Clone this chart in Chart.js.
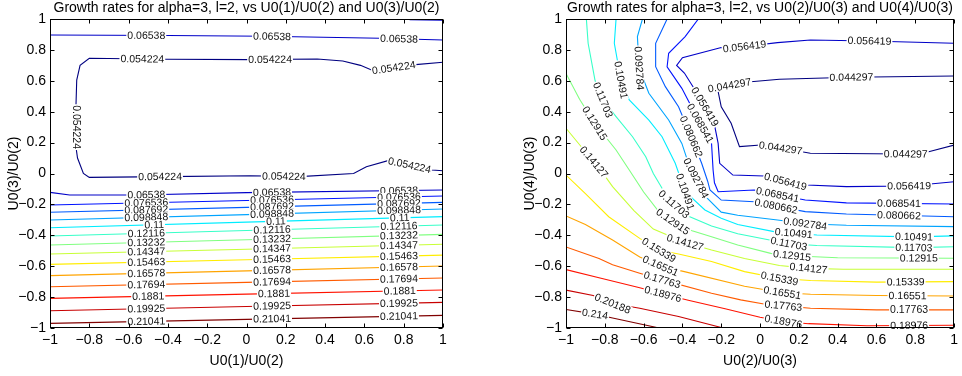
<!DOCTYPE html>
<html>
<head>
<meta charset="utf-8">
<script src="https://cdn.jsdelivr.net/npm/chart.js@4.4.0/dist/chart.umd.min.js"></script>
<style>
  body { margin: 0; background: #fff; width: 962px; height: 376px; overflow: hidden; position: relative; }
  canvas { position: absolute; top: 0; }
</style>
</head>
<body>
<canvas id="left" width="481" height="376" style="left:0"></canvas>
<canvas id="right" width="481" height="376" style="left:481px"></canvas>
<script>
// contour levels (text of the inline labels)
var leftLevels = [0.054224, 0.06538, 0.076536, 0.087692, 0.098848, 0.11, 0.12116, 0.13232,
                  0.14347, 0.15463, 0.16578, 0.17694, 0.1881, 0.19925, 0.21041];
var rightLevels = [0.044297, 0.056419, 0.068541, 0.080662, 0.092784, 0.10491, 0.11703, 0.12915,
                   0.14127, 0.15339, 0.16551, 0.17763, 0.18976, 0.20188, 0.214];

var tickValues = [-1, -0.8, -0.6, -0.4, -0.2, 0, 0.2, 0.4, 0.6, 0.8, 1];

// contour lines: [level index, [[x, y], ...]]
var leftLines = [
  [0, [[1,0.72],[0.86,0.705],[0.645,0.665],[0.58,0.70],[0.49,0.728],[0.36,0.741],[0.02,0.737],[-0.406,0.739],
       [-0.8,0.746],[-0.847,0.70],[-0.864,0.605],[-0.868,0.432],[-0.868,0.173],[-0.86,0.1],[-0.83,0.0],
       [-0.8,-0.025],[-0.41,-0.02],[0.02,-0.015],[0.27,-0.02],[0.545,0.0],[0.61,0.044],[0.72,0.083],
       [0.943,0.023],[1,0.018]]],
  [1, [[-1,0.896],[-0.4,0.893],[0.1,0.888],[0.68,0.875],[1,0.864]]],
  [1, [[0.83,0.995],[1,0.992]]],
  [1, [[-1,-0.122],[-0.9,-0.139],[-0.55,-0.139],[0,-0.124],[1,-0.107]]],
  [2, [[-1,-0.204],[0,-0.175],[1,-0.146]]],
  [3, [[-1,-0.251],[0,-0.219],[1,-0.187]]],
  [4, [[-1,-0.301],[0,-0.266],[1,-0.230]]],
  [5, [[-1,-0.351],[0,-0.315],[1,-0.279]]],
  [6, [[-1,-0.405],[0,-0.369],[1,-0.333]]],
  [7, [[-1,-0.463],[0,-0.429],[1,-0.394]]],
  [8, [[-1,-0.521],[0,-0.490],[1,-0.458]]],
  [9, [[-1,-0.588],[0,-0.558],[1,-0.528]]],
  [10, [[-1,-0.661],[0,-0.630],[1,-0.599]]],
  [11, [[-1,-0.733],[0,-0.705],[1,-0.676]]],
  [12, [[-1,-0.808],[0,-0.781],[1,-0.754]]],
  [13, [[-1,-0.888],[0,-0.861],[1,-0.834]]],
  [14, [[-1,-0.970],[0,-0.944],[1,-0.918]]]
];

var rightLines = [
  [0, [[1,0.631],[0.471,0.623],[0.1,0.61],[-0.047,0.594],[-0.157,0.57],[-0.216,0.53],[-0.2,0.432],
       [-0.149,0.325],[-0.106,0.174],[0.004,0.184],[0.106,0.165],[0.259,0.131],[0.751,0.126],[0.869,0.141],[1,0.184]]],
  [1, [[1,0.843],[0.564,0.858],[0.26,0.864],[0.09,0.847],[-0.08,0.822],[-0.2,0.815],[-0.4,0.75],[-0.43,0.70],
       [-0.39,0.65],[-0.335,0.54],[-0.284,0.432],[-0.233,0.303],[-0.216,0.195],[-0.208,0.066],[-0.14,-0.01],
       [0.021,-0.016],[0.131,-0.053],[0.242,-0.074],[0.445,-0.085],[0.768,-0.081],[1,-0.053]]],
  [2, [[-0.318,1],[-0.386,0.886],[-0.471,0.778],[-0.479,0.691],[-0.403,0.551],[-0.318,0.346],[-0.25,0.195],
       [-0.242,0.023],[-0.235,-0.06],[-0.216,-0.118],[-0.03,-0.107],[0.097,-0.139],[0.233,-0.172],[0.445,-0.19],[1,-0.197]]],
  [3, [[-0.479,1],[-0.538,0.843],[-0.538,0.691],[-0.488,0.562],[-0.42,0.432],[-0.352,0.228],[-0.301,0.066],
       [-0.27,-0.05],[-0.258,-0.107],[-0.2,-0.172],[-0.03,-0.183],[0.097,-0.215],[0.233,-0.247],[0.445,-0.262],[1,-0.28]]],
  [4, [[-0.606,1],[-0.632,0.886],[-0.623,0.681],[-0.573,0.519],[-0.471,0.346],[-0.403,0.195],[-0.369,0.066],
       [-0.33,-0.03],[-0.28,-0.15],[-0.2,-0.25],[-0.115,-0.27],[0.09,-0.301],[0.233,-0.325],[0.445,-0.335],[1,-0.344]]],
  [5, [[-0.742,1],[-0.751,0.843],[-0.717,0.605],[-0.674,0.476],[-0.573,0.346],[-0.505,0.238],[-0.437,0.066],
       [-0.386,-0.118],[-0.284,-0.236],[-0.2,-0.29],[-0.115,-0.33],[0.072,-0.376],[0.174,-0.387],[0.293,-0.398],
       [0.793,-0.41],[1,-0.404]]],
  [6, [[-0.895,1],[-0.886,0.843],[-0.85,0.6],[-0.81,0.476],[-0.742,0.368],[-0.657,0.238],[-0.589,0.109],
       [-0.55,0.0],[-0.47,-0.17],[-0.38,-0.27],[-0.25,-0.34],[-0.115,-0.39],[0.148,-0.455],[0.293,-0.466],
       [0.793,-0.48],[1,-0.474]]],
  [7, [[-1,0.648],[-0.93,0.48],[-0.852,0.325],[-0.742,0.152],[-0.674,0.023],[-0.6,-0.12],[-0.52,-0.25],
       [-0.44,-0.32],[-0.35,-0.37],[-0.25,-0.41],[-0.115,-0.463],[0.055,-0.517],[0.165,-0.532],[0.4,-0.545],[1,-0.549]]],
  [8, [[-1,0.293],[-0.88,0.11],[-0.82,0.02],[-0.76,-0.085],[-0.65,-0.24],[-0.55,-0.36],[-0.39,-0.445],
       [-0.25,-0.495],[-0.08,-0.55],[0.1,-0.595],[0.25,-0.614],[0.43,-0.62],[1,-0.62]]],
  [9, [[-1,-0.01],[-0.9,-0.13],[-0.78,-0.28],[-0.62,-0.42],[-0.52,-0.497],[-0.42,-0.521],[-0.25,-0.57],
       [-0.08,-0.635],[0.1,-0.68],[0.26,-0.693],[0.6,-0.703],[1,-0.70]]],
  [10, [[-1,-0.275],[-0.9,-0.33],[-0.76,-0.43],[-0.62,-0.54],[-0.51,-0.6],[-0.39,-0.635],[-0.08,-0.73],
        [0.115,-0.772],[0.26,-0.782],[0.6,-0.79],[1,-0.793]]],
  [11, [[-1,-0.476],[-0.83,-0.55],[-0.76,-0.59],[-0.62,-0.645],[-0.5,-0.69],[-0.25,-0.775],[-0.1,-0.818],
        [0.02,-0.845],[0.12,-0.857],[0.26,-0.872],[0.6,-0.883],[1,-0.883]]],
  [12, [[-1,-0.622],[-0.83,-0.675],[-0.62,-0.74],[-0.5,-0.78],[-0.37,-0.82],[-0.18,-0.875],[0,-0.93],
        [0.12,-0.958],[0.25,-0.972],[0.55,-0.985],[1,-0.982]]],
  [13, [[-1,-0.755],[-0.86,-0.79],[-0.76,-0.842],[-0.62,-0.872],[-0.42,-0.926],[-0.19,-1]]],
  [14, [[-1,-0.88],[-0.85,-0.91],[-0.76,-0.935],[-0.52,-1]]]
];

// inline labels: [level index, x, y] (the label snaps to the nearest point of that level's line)
var leftLabels = [
  [0,-0.53,0.74],[0,0.12,0.737],[0,0.75,0.68],[0,-0.866,0.30],[0,-0.44,-0.02],[0,0.19,-0.015],[0,0.83,0.055],
  [1,-0.51,0.893],[1,0.13,0.888],[1,0.776,0.87],
  [1,-0.51,-0.137],[1,0.13,-0.122],[1,0.776,-0.111],
  [2,-0.51,-0.19],[2,0.13,-0.171],[2,0.776,-0.152],
  [3,-0.51,-0.235],[3,0.13,-0.215],[3,0.776,-0.194],
  [4,-0.51,-0.283],[4,0.13,-0.261],[4,0.776,-0.238],
  [5,-0.47,-0.333],[5,0.15,-0.31],[5,0.78,-0.287],
  [6,-0.51,-0.387],[6,0.13,-0.364],[6,0.776,-0.341],
  [7,-0.51,-0.446],[7,0.13,-0.424],[7,0.776,-0.402],
  [8,-0.51,-0.506],[8,0.13,-0.486],[8,0.776,-0.465],
  [9,-0.51,-0.573],[9,0.13,-0.554],[9,0.776,-0.535],
  [10,-0.51,-0.646],[10,0.13,-0.626],[10,0.776,-0.606],
  [11,-0.51,-0.719],[11,0.13,-0.701],[11,0.776,-0.682],
  [12,-0.5,-0.795],[12,0.14,-0.777],[12,0.78,-0.76],
  [13,-0.51,-0.875],[13,0.13,-0.857],[13,0.776,-0.84],
  [14,-0.51,-0.957],[14,0.13,-0.94],[14,0.776,-0.924]
];

var rightLabels = [
  [0,0.471,0.623],[0,-0.157,0.57],[0,0.106,0.165],[0,0.751,0.126],
  [1,0.564,0.858],[1,-0.08,0.822],[1,-0.284,0.432],[1,0.131,-0.053],[1,0.768,-0.081],
  [2,-0.3,0.33],[2,0.09,-0.14],[2,0.716,-0.195],
  [3,-0.352,0.24],[3,0.081,-0.22],[3,0.716,-0.27],
  [4,-0.623,0.681],[4,-0.33,-0.03],[4,0.233,-0.325],
  [5,-0.717,0.605],[5,-0.386,-0.118],[5,0.174,-0.387],[5,0.793,-0.41],
  [6,-0.81,0.476],[6,-0.454,-0.215],[6,0.148,-0.455],[6,0.793,-0.48],
  [7,-0.852,0.325],[7,-0.454,-0.32],[7,0.165,-0.532],[7,0.818,-0.548],
  [8,-0.87,0.06],[8,-0.386,-0.445],[8,0.25,-0.614],
  [9,-0.522,-0.497],[9,0.1,-0.68],[9,0.75,-0.703],
  [10,-0.513,-0.6],[10,0.115,-0.772],[10,0.76,-0.792],
  [11,-0.505,-0.689],[11,0.12,-0.857],[11,0.768,-0.883],
  [12,-0.5,-0.78],[12,0.12,-0.958],[12,0.768,-0.985],
  [13,-0.76,-0.842],
  [14,-0.85,-0.91]
];

var FONT = '"Liberation Sans", Arial, Helvetica, sans-serif';
Chart.defaults.font.family = FONT;
Chart.defaults.color = '#000';

// jet colormap
function jet(t) {
  function c(v) { return Math.round(255 * Math.max(0, Math.min(1, v))); }
  var r = 1.5 - Math.abs(4 * t - 3), g = 1.5 - Math.abs(4 * t - 2), b = 1.5 - Math.abs(4 * t - 1);
  return 'rgb(' + c(r) + ',' + c(g) + ',' + c(b) + ')';
}

function tickText(v) {
  var s = String(Math.round(v * 10) / 10);
  return s.replace('-', '\u2212');
}

// inline contour labels, placed on the drawn line (pixel points from the chart meta)
var labelPlugin = {
  id: 'clabels',
  afterDatasetsDraw: function(chart, args, opts) {
    var ctx = chart.ctx;
    var levels = opts.levels;
    ctx.save();
    ctx.font = '10.5px ' + FONT;
    ctx.textAlign = 'center';
    ctx.textBaseline = 'middle';
    opts.labels.forEach(function(lb) {
      var px = chart.scales.x.getPixelForValue(lb[1]);
      var py = chart.scales.y.getPixelForValue(lb[2]);
      var best = null;
      chart.data.datasets.forEach(function(ds, di) {
        if (ds.level !== lb[0]) return;
        var pts = chart.getDatasetMeta(di).data;
        for (var i = 0; i < pts.length - 1; i++) {
          var ax = pts[i].x, ay = pts[i].y, dx = pts[i + 1].x - ax, dy = pts[i + 1].y - ay;
          var len2 = dx * dx + dy * dy;
          var t = len2 ? ((px - ax) * dx + (py - ay) * dy) / len2 : 0;
          t = Math.max(0, Math.min(1, t));
          var qx = ax + t * dx, qy = ay + t * dy;
          var d = (qx - px) * (qx - px) + (qy - py) * (qy - py);
          if (!best || d < best.d) best = { d: d, x: qx, y: qy, a: Math.atan2(dy, dx) };
        }
      });
      if (!best) return;
      var a = best.a;
      if (a > Math.PI / 2) a -= Math.PI;
      if (a <= -Math.PI / 2) a += Math.PI;
      var txt = String(levels[lb[0]]);
      var w = ctx.measureText(txt).width;
      ctx.save();
      ctx.translate(best.x, best.y);
      ctx.rotate(a);
      ctx.fillStyle = '#fff';
      ctx.fillRect(-w / 2 - 1, -4.5, w + 2, 9);
      ctx.fillStyle = '#111';
      ctx.fillText(txt, 0, 0.5);
      ctx.restore();
    });
    ctx.restore();
  }
};

// box with inward tick marks on all four sides
var framePlugin = {
  id: 'frame',
  afterDraw: function(chart) {
    var ctx = chart.ctx, a = chart.chartArea;
    var L = Math.round(a.left) + 0.5, R = Math.round(a.right) - 0.5;
    var T = Math.round(a.top) + 0.5, B = Math.round(a.bottom) - 0.5;
    ctx.save();
    ctx.strokeStyle = '#000';
    ctx.lineWidth = 1;
    ctx.beginPath();
    chart.scales.x.ticks.forEach(function(t) {
      var p = Math.round(chart.scales.x.getPixelForValue(t.value)) + 0.5;
      ctx.moveTo(p, B); ctx.lineTo(p, B - 4);
      ctx.moveTo(p, T); ctx.lineTo(p, T + 4);
    });
    chart.scales.y.ticks.forEach(function(t) {
      var p = Math.round(chart.scales.y.getPixelForValue(t.value)) + 0.5;
      ctx.moveTo(L, p); ctx.lineTo(L + 4, p);
      ctx.moveTo(R, p); ctx.lineTo(R - 4, p);
    });
    ctx.stroke();
    ctx.strokeRect(L, T, R - L, B - T);
    ctx.restore();
  }
};

function makeChart(id, title, xTitle, yTitle, levels, lines, labels, padLeft, padRight) {
  var datasets = lines.map(function(ln) {
    return {
      level: ln[0],
      data: ln[1].map(function(p) { return { x: p[0], y: p[1] }; }),
      borderColor: jet(ln[0] / (levels.length - 1)),
      borderWidth: 1.1,
      pointRadius: 0,
      showLine: true,
      fill: false,
      tension: 0
    };
  });
  return new Chart(document.getElementById(id).getContext('2d'), {
    type: 'scatter',
    data: { datasets: datasets },
    options: {
      responsive: false,
      animation: false,
      layout: { padding: { left: padLeft, right: padRight, top: 0, bottom: 0 } },
      plugins: {
        legend: { display: false },
        tooltip: { enabled: false },
        title: {
          display: true, text: title, color: '#000', fullSize: false,
          font: { size: 14, weight: 'normal' }, padding: { top: 0, bottom: 2.2 }
        },
        clabels: { levels: levels, labels: labels }
      },
      scales: {
        x: {
          type: 'linear', min: -1, max: 1,
          afterBuildTicks: function(s) { s.ticks = tickValues.map(function(v) { return { value: v }; }); },
          afterFit: function(s) { s.height = 48; },
          grid: { display: false, drawTicks: false },
          border: { display: false },
          ticks: { font: { size: 14 }, color: '#000', padding: 4, maxRotation: 0, callback: tickText },
          title: { display: true, text: xTitle, color: '#000', font: { size: 14 }, padding: { top: 0, bottom: 6 } }
        },
        y: {
          type: 'linear', min: -1, max: 1,
          afterBuildTicks: function(s) { s.ticks = tickValues.map(function(v) { return { value: v }; }); },
          afterFit: function(s) { s.width = 50; },
          grid: { display: false, drawTicks: false },
          border: { display: false },
          ticks: { font: { size: 14 }, color: '#000', padding: 4, callback: tickText },
          title: { display: true, text: yTitle, color: '#000', font: { size: 14 }, padding: { top: 6, bottom: 0 } }
        }
      }
    },
    plugins: [labelPlugin, framePlugin]
  });
}

makeChart('left', 'Growth rates for alpha=3, l=2, vs U0(1)/U0(2) and U0(3)/U0(2)',
  'U0(1)/U0(2)', 'U0(3)/U0(2)', leftLevels, leftLines, leftLabels, 0, 38);
makeChart('right', 'Growth rates for alpha=3, l=2, vs U0(2)/U0(3) and U0(4)/U0(3)',
  'U0(2)/U0(3)', 'U0(4)/U0(3)', rightLevels, rightLines, rightLabels, 35, 3);
</script>
</body>
</html>
